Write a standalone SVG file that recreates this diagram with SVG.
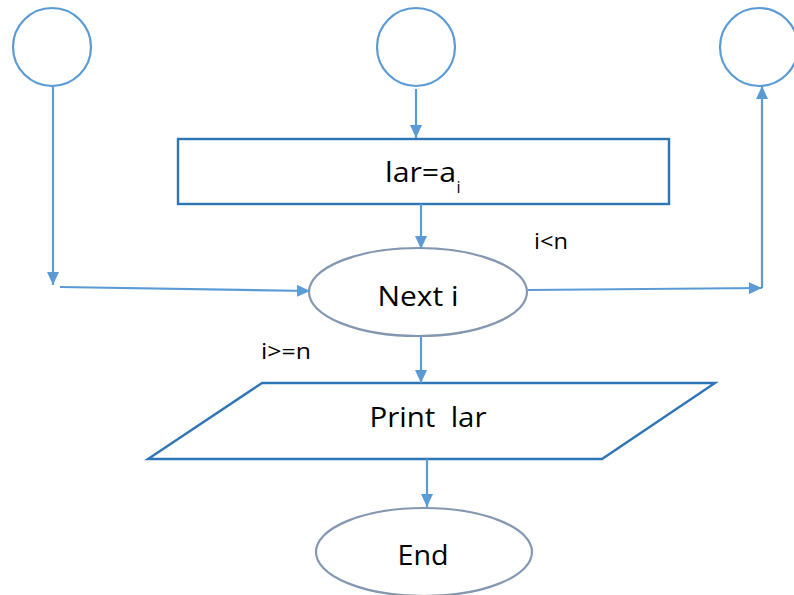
<svg xmlns="http://www.w3.org/2000/svg" width="794" height="595" viewBox="0 0 794 595">
  <defs>
    <marker id="arrow" viewBox="0 0 13 12" refX="13" refY="6" markerWidth="13" markerHeight="12" markerUnits="userSpaceOnUse" orient="auto">
      <path d="M0,0 L13,6 L0,12 Z" fill="#5b9bd5"/>
    </marker>
    <style>
      .conn { stroke: #5b9bd5; stroke-width: 2.2; fill: none; marker-end: url(#arrow); }
      .circle { stroke: #5b9bd5; stroke-width: 2.2; fill: #ffffff; }
      .box { stroke: #2e75b6; stroke-width: 2.4; fill: #ffffff; }
      .oval { stroke: #8497b0; stroke-width: 2.2; fill: #ffffff; }
      .label { font-family: "Open Sans", "Liberation Sans", sans-serif; fill: #000000; }
    </style>
  </defs>
  <rect width="794" height="595" fill="#ffffff"/>

  <!-- connector circles -->
  <g id="conn-left"><circle class="circle" cx="52" cy="47" r="39"/></g>
  <g id="conn-top"><circle class="circle" cx="416" cy="47" r="39"/></g>
  <g id="conn-right"><circle class="circle" cx="759" cy="47" r="39"/></g>

  <!-- assignment -->
  <g id="assign">
    <rect class="box" x="178" y="139" width="491" height="65"/>
    <text class="label" x="385" y="182" font-size="28" textLength="71" lengthAdjust="spacingAndGlyphs">lar=a</text>
    <text class="label" x="456.5" y="193" font-size="16">i</text>
  </g>

  <!-- loop -->
  <g id="next">
    <ellipse class="oval" cx="418" cy="292" rx="109" ry="44"/>
    <text class="label" x="418" y="306" font-size="28" text-anchor="middle" textLength="81" lengthAdjust="spacingAndGlyphs">Next i</text>
  </g>

  <!-- output -->
  <g id="print">
    <polygon class="box" points="262,383 715,383 602,459 148,459"/>
    <text class="label" x="428" y="427" font-size="28" text-anchor="middle" textLength="117" lengthAdjust="spacingAndGlyphs" xml:space="preserve">Print  lar</text>
  </g>

  <!-- terminator -->
  <g id="end">
    <ellipse class="oval" cx="424" cy="552" rx="108" ry="44"/>
    <text class="label" x="423" y="565" font-size="28" text-anchor="middle" textLength="51" lengthAdjust="spacingAndGlyphs">End</text>
  </g>

  <!-- branch labels -->
  <g id="labels">
    <text class="label" x="534" y="249" font-size="21" textLength="34" lengthAdjust="spacingAndGlyphs">i&lt;n</text>
    <text class="label" x="261" y="359" font-size="21" textLength="50" lengthAdjust="spacingAndGlyphs">i&gt;=n</text>
  </g>

  <!-- flow lines -->
  <g id="connectors">
    <line class="conn" x1="416" y1="89" x2="416" y2="138"/>
    <line class="conn" x1="421" y1="204" x2="421" y2="249"/>
    <line class="conn" x1="53" y1="86" x2="53" y2="285"/>
    <line class="conn" x1="60" y1="287" x2="310" y2="291"/>
    <line class="conn" x1="528" y1="290" x2="762" y2="288"/>
    <line class="conn" x1="762" y1="288" x2="762" y2="86"/>
    <line class="conn" x1="421" y1="337" x2="421" y2="383"/>
    <line class="conn" x1="427" y1="459" x2="427" y2="507"/>
  </g>
</svg>
